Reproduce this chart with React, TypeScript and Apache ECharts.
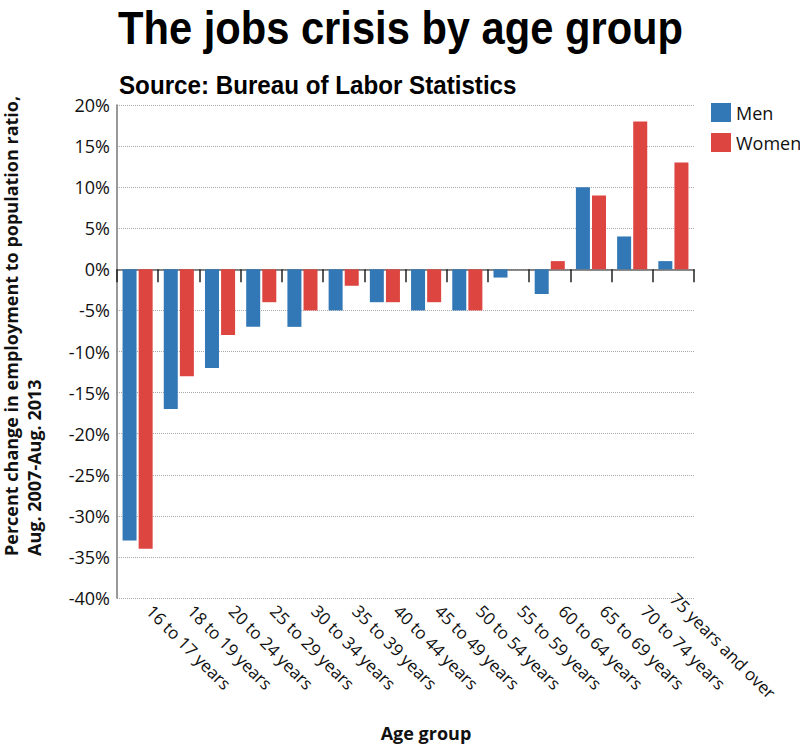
import React, { useEffect, useRef } from "react";
import * as echarts from "echarts";

const categories = [
  "16 to 17 years",
  "18 to 19 years",
  "20 to 24 years",
  "25 to 29 years",
  "30 to 34 years",
  "35 to 39 years",
  "40 to 44 years",
  "45 to 49 years",
  "50 to 54 years",
  "55 to 59 years",
  "60 to 64 years",
  "65 to 69 years",
  "70 to 74 years",
  "75 years and over",
];
const menValues = [-33, -17, -12, -7, -7, -5, -4, -5, -5, -1, -3, 10, 4, 1];
const womenValues = [-34, -13, -8, -4, -5, -2, -4, -4, -5, 0, 1, 9, 18, 13];
const yTicks = { min: -40, max: 20, interval: 5 };

const titleText = "The jobs crisis by age group";
const subtitleText = "Source: Bureau of Labor Statistics";
const yName = "Percent change in employment to population ratio,\nAug. 2007-Aug. 2013";
const xName = "Age group";

const BLUE = "#3277b6";
const RED = "#dd4541";
const FONT = "'Open Sans', 'Noto Sans', sans-serif";
const HEAD = "'Liberation Sans', Arial, sans-serif";

export default function App() {
  const ref = useRef<HTMLDivElement>(null);
  useEffect(() => {
    document.body.style.margin = "0";
    if (!ref.current) return;
    const chart = echarts.init(ref.current, null, { renderer: "svg" });
    const labelData = categories.map((c, i) =>
      i === categories.length - 1
        ? { value: c, textStyle: { padding: [0, 0, 0, 0] } }
        : { value: c }
    );
    chart.setOption({
      animation: false,
      backgroundColor: "#ffffff",
      legend: {
        orient: "vertical",
        left: 711,
        top: 103,
        padding: 0,
        itemWidth: 20,
        itemHeight: 19,
        itemGap: 11,
        icon: "rect",
        textStyle: { fontFamily: FONT, fontSize: 18, color: "#111" },
        data: ["Men", "Women"],
      },
      grid: { left: 117, right: 106, top: 105, bottom: 148, containLabel: false },
      xAxis: [
        {
          type: "category",
          data: categories,
          boundaryGap: true,
          axisLine: { show: true, onZero: true, lineStyle: { color: "#666", width: 1.5 } },
          axisTick: { show: true, interval: 0, length: 13, lineStyle: { color: "#222", width: 1.5 } },
          axisLabel: { show: false },
          splitLine: { show: false },
        },
        {
          type: "category",
          data: labelData,
          position: "bottom",
          boundaryGap: true,
          axisLine: { show: false, onZero: false },
          axisTick: { show: false },
          axisLabel: {
            show: true,
            interval: 0,
            rotate: -45,
            margin: -2,
            padding: [0, 0, 0, 17],
            fontFamily: FONT,
            fontSize: 17,
            color: "#111",
          },
        },
      ],
      yAxis: {
        type: "value",
        min: yTicks.min,
        max: yTicks.max,
        interval: yTicks.interval,
        axisLine: { show: true, lineStyle: { color: "#777", width: 1.5 } },
        axisTick: { show: false },
        axisLabel: {
          formatter: "{value}%",
          fontFamily: FONT,
          fontSize: 18,
          color: "#111",
          margin: 7,
        },
        splitLine: { show: true, lineStyle: { type: "dotted", color: "#aaa", width: 1 } },
      },
      series: [
        {
          name: "Men",
          type: "bar",
          xAxisIndex: 0,
          data: menValues,
          barWidth: 14,
          barGap: "15%",
          itemStyle: { color: BLUE },
        },
        {
          name: "Women",
          type: "bar",
          xAxisIndex: 0,
          data: womenValues,
          barWidth: 14,
          barGap: "15%",
          itemStyle: { color: RED },
        },
      ],
      graphic: [
        {
          type: "text",
          x: 118,
          y: 4,
          scaleX: 0.887,
          style: {
            text: titleText,
            fontFamily: HEAD,
            fontWeight: "bold",
            fontSize: 47,
            fill: "#000",
            align: "left",
            verticalAlign: "top",
          },
        },
        {
          type: "text",
          x: 119,
          y: 72,
          scaleX: 0.93,
          style: {
            text: subtitleText,
            fontFamily: HEAD,
            fontWeight: "bold",
            fontSize: 26,
            fill: "#000",
            align: "left",
            verticalAlign: "top",
          },
        },
        {
          type: "text",
          x: 22,
          y: 556,
          rotation: Math.PI / 2,
          style: {
            text: yName,
            fontFamily: FONT,
            fontWeight: "bold",
            fontSize: 18,
            lineHeight: 23,
            fill: "#111",
            align: "left",
            verticalAlign: "middle",
          },
        },
        {
          type: "text",
          x: 426,
          y: 733,
          style: {
            text: xName,
            fontFamily: FONT,
            fontWeight: "bold",
            fontSize: 18,
            fill: "#111",
            align: "center",
            verticalAlign: "middle",
          },
        },
      ],
    });
    return () => chart.dispose();
  }, []);
  return <div ref={ref} style={{ width: 800, height: 746 }} />;
}
